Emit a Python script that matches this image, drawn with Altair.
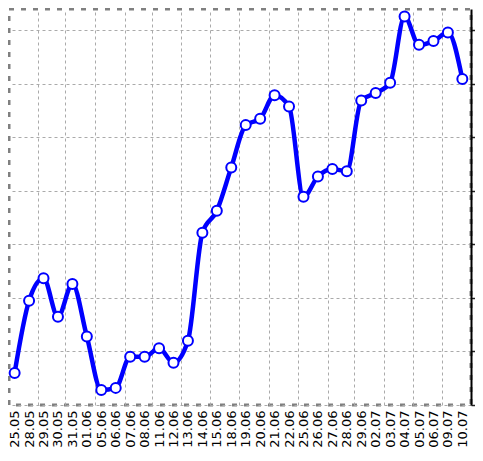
import json
import altair as alt
import pandas as pd

dates = ["25.05", "28.05", "29.05", "30.05", "31.05", "01.06", "05.06", "06.06",
         "07.06", "08.06", "11.06", "12.06", "13.06", "14.06", "15.06", "18.06",
         "19.06", "20.06", "21.06", "22.06", "25.06", "26.06", "27.06", "28.06",
         "29.06", "02.07", "03.07", "04.07", "05.07", "06.07", "09.07", "10.07"]
values = [0.60, 1.95, 2.37, 1.65, 2.26, 1.28, 0.28, 0.32,
          0.90, 0.90, 1.06, 0.79, 1.20, 3.22, 3.63, 4.44,
          5.23, 5.35, 5.79, 5.58, 3.89, 4.27, 4.41, 4.37,
          5.69, 5.83, 6.02, 7.26, 6.73, 6.80, 6.96, 6.09]
y_ticks = [0, 1, 2, 3, 4, 5, 6, 7]
x_grid = [1.59, 3.51, 5.56, 7.61, 9.52, 11.5, 13.55, 15.54, 17.59, 19.64,
          21.69, 23.53, 25.58, 27.6, 29.58]

df = pd.DataFrame({"idx": list(range(len(dates))), "val": values})

x_scale = alt.Scale(domain=[-0.39, 31.6], nice=False, zero=False)
y_scale = alt.Scale(domain=[0, 7.4], nice=False, zero=False)

label_expr = json.dumps(dates) + "[datum.value]"

base = alt.Chart(df)

line = base.mark_line(color="#0000ff", strokeWidth=4.5, interpolate="monotone").encode(
    x=alt.X("idx:Q", scale=x_scale,
            axis=alt.Axis(orient="bottom", values=list(range(len(dates))),
                          labelExpr=label_expr, labelAngle=270, labelAlign="right",
                          labelBaseline="middle", grid=False, ticks=False,
                          domain=False, labelPadding=5, labelFontSize=13,
                          labelFont="DejaVu Sans", labelColor="black",
                          labelOverlap=False, labelFlush=False, title=None)),
    y=alt.Y("val:Q", scale=y_scale,
            axis=alt.Axis(orient="right", values=y_ticks, labels=False,
                          tickSize=6, tickColor="#222222", tickWidth=1.5,
                          domainColor="black", domainWidth=2,
                          grid=True, gridDash=[3, 3], gridColor="#aaaaaa",
                          gridWidth=1, title=None)),
)

points = base.mark_point(shape="circle", filled=True, fill="white",
                         stroke="#0000ff", strokeWidth=2, size=100,
                         opacity=1).encode(
    x=alt.X("idx:Q", scale=x_scale,
            axis=alt.Axis(orient="top", values=x_grid, labels=False,
                          ticks=False, domain=False, grid=True,
                          gridDash=[3, 3], gridColor="#aaaaaa", gridWidth=1,
                          title=None)),
    y=alt.Y("val:Q", scale=y_scale),
)

chart = alt.layer(line, points).resolve_axis(x="independent").properties(
    width=462, height=396,
    autosize=alt.AutoSizeParams(type="none"),
    padding={"left": 1, "top": 1, "right": 4, "bottom": 44},
).configure_view(
    stroke="#808080", strokeWidth=3, strokeDash=[5, 7]
)

chart.save("out.html", embed_options={"renderer": "svg", "actions": False})
